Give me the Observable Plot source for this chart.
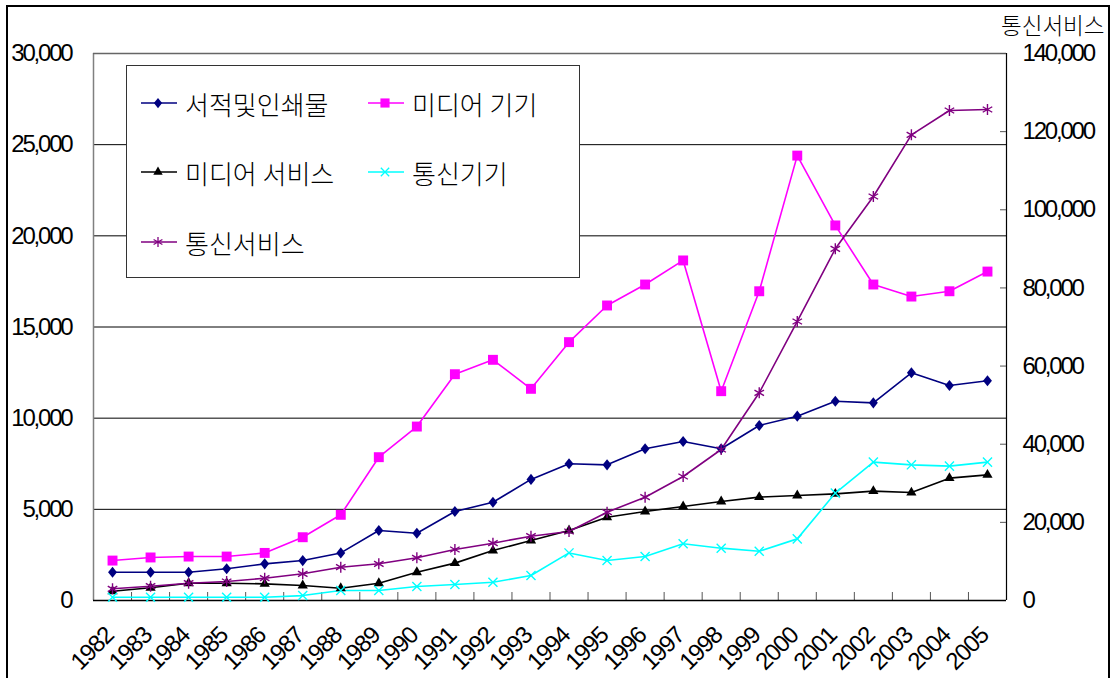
<!DOCTYPE html>
<html><head><meta charset="utf-8">
<script src="https://cdn.jsdelivr.net/npm/d3@7"></script>
<script src="https://cdn.jsdelivr.net/npm/@observablehq/plot@0.6"></script>
<style>
body{margin:0;background:#fff;}
#wrap{position:relative;width:1112px;height:678px;overflow:hidden;background:#fff;}
#border{position:absolute;left:6px;top:5px;width:1104px;height:720px;border:2px solid #000;box-sizing:border-box;pointer-events:none;}
#legend{position:absolute;left:126px;top:65px;width:454px;height:213px;border:1px solid #333;box-sizing:border-box;background:#fff;}
.item{position:absolute;display:flex;align-items:center;font-family:"Noto Sans CJK KR",sans-serif;font-size:26px;font-weight:300;color:#000;white-space:nowrap;}
.item svg{margin-right:8px;}
#rtitle{position:absolute;left:1001px;top:8px;font-family:"Noto Sans CJK KR",sans-serif;font-size:22.5px;font-weight:300;color:#000;}
svg text.tk{font-family:"Liberation Sans",Arial,sans-serif !important;font-size:24px !important;}
</style></head><body>
<div id="wrap"><div id="chart"></div><div id="legend"></div><div id="rtitle">통신서비스</div><div id="border"></div></div>
<script>
const years = ["1982","1983","1984","1985","1986","1987","1988","1989","1990","1991","1992","1993","1994","1995","1996","1997","1998","1999","2000","2001","2002","2003","2004","2005"];
const seriesNames = ["서적및인쇄물","미디어 기기","미디어 서비스","통신기기","통신서비스"];
const books      = [1550,1550,1550,1740,2010,2190,2610,3840,3690,4880,5390,6640,7500,7440,8320,8720,8320,9600,10110,10930,10840,12490,11790,12050];
const mediaDev   = [2190,2360,2410,2410,2610,3470,4700,7860,9540,12410,13200,11610,14170,16180,17330,18650,11480,16960,24400,20570,17330,16670,16960,18040];
const mediaSvc   = [510,695,950,950,914,823,676,950,1550,2050,2740,3290,3840,4570,4880,5155,5430,5670,5760,5850,6000,5920,6710,6890];
const commDev    = [180,180,180,180,180,270,550,550,770,880,1000,1370,2610,2190,2410,3110,2870,2700,3380,5890,7590,7440,7370,7590];
const commSvc    = [2990,3660,4430,4860,5710,6830,8520,9390,10930,13050,14670,16460,17660,22600,26440,31740,38650,53160,71410,90010,103400,119190,125410,125670];
const leftTicks  = [0,5000,10000,15000,20000,25000,30000];
const rightTicks = [0,20000,40000,60000,80000,100000,120000,140000];

const leftMax = 30000, rightMax = 140000;
const toLeft = v => v * leftMax / rightMax;
const fmt = d3.format(",");

const colors = ["#000080","#FF00FF","#000000","#00FFFF","#800080"];
const diamond = {draw(ctx, size){const s=Math.sqrt(size);const w=0.45*s,h=0.56*s;ctx.moveTo(0,-h);ctx.lineTo(w,0);ctx.lineTo(0,h);ctx.lineTo(-w,0);ctx.closePath();}};
const symbols = [diamond, "square", "triangle", "times", "asterisk"];
const filled = [true,true,true,false,false];
const radii = [5.6,5.6,3.8,4.2,5.2];
const rawSeries = [books, mediaDev, mediaSvc, commDev, commSvc];

const data = [];
rawSeries.forEach((arr, s) => arr.forEach((v, i) => data.push({s, i, v: s === 4 ? toLeft(v) : v})));

const bounds = d3.range(25).map(k => k - 0.5);
const idx = d3.range(years.length);
const plotH = 678 - 53 - 78, plotW = 1112 - 93 - 106;

const marks = [
  Plot.ruleY(leftTicks.slice(1), {stroke: "#000", strokeWidth: 1}),
  Plot.ruleX([-0.5], {stroke: "#808080", strokeWidth: 1.5}),
  Plot.ruleX([23.5], {stroke: "#000", strokeWidth: 1.2}),
  Plot.ruleY([30000], {stroke: "#666", strokeWidth: 1.5}),
  Plot.ruleX(bounds.slice(1, -1), {stroke: "#555", strokeWidth: 1, insetTop: plotH - 8}),
  Plot.ruleY(rightTicks.map(toLeft), {stroke: "#555", strokeWidth: 1, insetLeft: plotW - 6}),
  Plot.ruleY([0], {stroke: "#000", strokeWidth: 1.5}),
  Plot.axisY({anchor: "left", ticks: leftTicks, tickSize: 0, tickPadding: 22, tickFormat: fmt, label: null}),
  Plot.axisY({anchor: "right", ticks: rightTicks.map(toLeft), tickSize: 0, tickPadding: 16,
    tickFormat: d => fmt(Math.round(d * rightMax / leftMax)), label: null}),
  Plot.axisX({ticks: idx, tickFormat: i => years[i], tickSize: 0, tickRotate: -45, tickPadding: 31, dx: -3, label: null})
];
rawSeries.forEach((arr, s) => {
  const d = data.filter(e => e.s === s);
  marks.push(Plot.line(d, {x: "i", y: "v", stroke: colors[s], strokeWidth: 1.6}));
});
rawSeries.forEach((arr, s) => {
  const d = data.filter(e => e.s === s);
  marks.push(Plot.dot(d, {x: "i", y: "v", symbol: () => symbols[s], r: radii[s],
    fill: filled[s] ? colors[s] : "none", stroke: colors[s], strokeWidth: filled[s] ? 0 : 1.4}));
});

const chart = Plot.plot({
  width: 1112, height: 678,
  marginLeft: 93, marginRight: 106, marginTop: 53, marginBottom: 78,
  x: {type: "linear", domain: [-0.5, 23.5], axis: null},
  y: {domain: [0, 30000], axis: null},
  symbol: {type: "identity"},
  style: {background: "#fff", color: "#000"},
  marks
});
document.getElementById("chart").appendChild(chart);
chart.querySelectorAll('g[aria-label$="tick label"]').forEach(g => {
  g.querySelectorAll("text").forEach(t => {
    t.classList.add("tk");
    t.setAttribute("letter-spacing", "-2.2");
  });
});
chart.querySelectorAll('g[aria-label="x-axis tick label"] text').forEach(t => t.setAttribute("letter-spacing", "-1.2"));

// legend
const legend = document.getElementById("legend");
const pos = [[14,37],[241,37],[14,106],[241,106],[14,176]];
seriesNames.forEach((name, s) => {
  const div = document.createElement("div");
  div.className = "item";
  div.style.left = pos[s][0] + "px";
  div.style.top = (pos[s][1] - 19) + "px";
  const svg = d3.create("svg").attr("width", 36).attr("height", 38);
  svg.append("line").attr("x1", 0).attr("x2", 36).attr("y1", 19).attr("y2", 19).attr("stroke", colors[s]).attr("stroke-width", 1.5);
  const sym = typeof symbols[s] === "string" ? d3.symbol(d3["symbol" + symbols[s][0].toUpperCase() + symbols[s].slice(1)]) : d3.symbol(symbols[s]);
  const size = Math.PI * radii[s] * radii[s] * 0.85;
  svg.append("path").attr("transform", "translate(17,19)").attr("d", sym.size(size)())
    .attr("fill", filled[s] ? colors[s] : "none").attr("stroke", colors[s]).attr("stroke-width", filled[s] ? 0 : 1.3);
  div.appendChild(svg.node());
  const span = document.createElement("span");
  span.textContent = name;
  div.appendChild(span);
  legend.appendChild(div);
});
</script>
</body></html>
